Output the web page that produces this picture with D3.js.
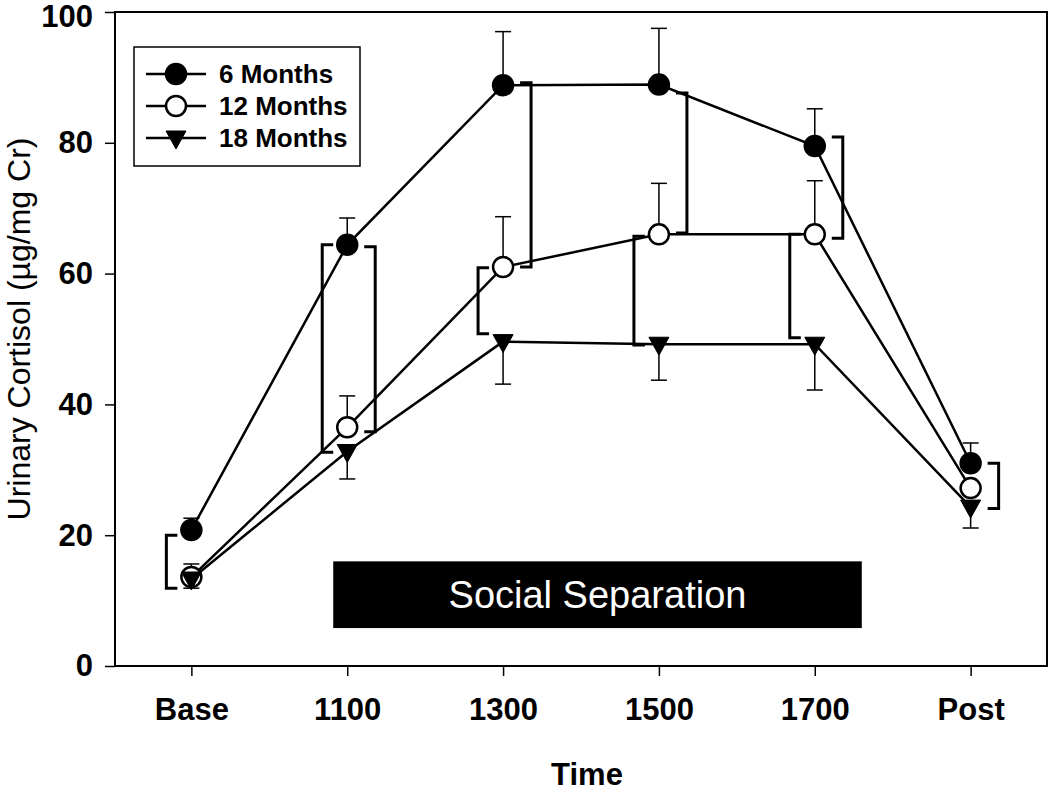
<!DOCTYPE html>
<html>
<head>
<meta charset="utf-8">
<script src="https://cdn.jsdelivr.net/npm/d3@7"></script>
<style>
  html, body { margin: 0; padding: 0; background: #fff; }
  svg { display: block; font-family: "Liberation Sans", Arial, sans-serif; }
</style>
</head>
<body>
<div id="chart"></div>
<script>
const timePoints = ['Base', '1100', '1300', '1500', '1700', 'Post'];

const months6 = [20.8, 64.4, 88.8, 88.9, 79.5, 31.0];
const months6Err = [1.8, 4.1, 8.2, 8.6, 5.7, 3.1];
const months12 = [13.6, 36.5, 61.0, 66.0, 66.0, 27.2];
const months12Err = [2.0, 4.8, 7.7, 7.8, 8.2, 1.0];
const months18 = [13.3, 32.8, 49.6, 49.2, 49.2, 24.3];
const months18Err = [1.4, 4.2, 6.5, 5.5, 7.0, 3.2];

const yTicks = [0, 20, 40, 60, 80, 100];

// significance brackets: [time point, side, upper value, lower value]
const brackets = [
  ['Base', 'left', 20.0, 11.9],
  ['1100', 'left', 64.4, 32.7],
  ['1100', 'right', 64.1, 35.8],
  ['1300', 'left', 60.9, 50.8],
  ['1300', 'right', 89.2, 61.0],
  ['1500', 'left', 65.7, 49.1],
  ['1500', 'right', 87.6, 66.2],
  ['1700', 'left', 66.0, 50.2],
  ['1700', 'right', 80.9, 65.4],
  ['Post', 'right', 31.0, 24.1]
];

const separationLabel = 'Social Separation';
const separationRange = [5.8, 16.0];

const series = [
  { name: '6 Months', values: months6, err: months6Err, dir: 1, shape: 'circle', fill: '#000' },
  { name: '12 Months', values: months12, err: months12Err, dir: 1, shape: 'circle', fill: '#fff' },
  { name: '18 Months', values: months18, err: months18Err, dir: -1, shape: 'triangle', fill: '#000' }
];

const W = 1050, H = 791;
const plot = { left: 115, right: 1047, top: 12, bottom: 666 };

const svg = d3.select('#chart').append('svg')
  .attr('width', W)
  .attr('height', H);

const x = d3.scalePoint()
  .domain(timePoints)
  .range([plot.left, plot.right])
  .padding(0.49);

const y = d3.scaleLinear()
  .domain([0, 100])
  .range([plot.bottom, plot.top]);

// frame
svg.append('rect')
  .attr('x', plot.left)
  .attr('y', plot.top)
  .attr('width', plot.right - plot.left)
  .attr('height', plot.bottom - plot.top)
  .attr('fill', 'none')
  .attr('stroke', '#000')
  .attr('stroke-width', 2);

// y axis
const yAxis = svg.append('g')
  .attr('transform', `translate(${plot.left},0)`)
  .call(d3.axisLeft(y).tickValues(yTicks).tickSize(10).tickPadding(12));
yAxis.select('.domain').remove();
yAxis.selectAll('.tick line').attr('stroke-width', 1.5);
yAxis.selectAll('.tick text')
  .attr('font-size', 31)
  .attr('font-weight', 700)
  .attr('font-family', '"Liberation Sans", Arial, sans-serif')
  .attr('fill', '#000')
  .attr('dy', d => d === 100 ? '0.48em' : '0.32em');

// x axis
const xAxis = svg.append('g')
  .attr('transform', `translate(0,${plot.bottom})`)
  .call(d3.axisBottom(x).tickSize(10).tickPadding(22));
xAxis.select('.domain').remove();
xAxis.selectAll('.tick line').attr('stroke-width', 1.5);
xAxis.selectAll('.tick text')
  .attr('font-size', 31)
  .attr('font-weight', 700)
  .attr('font-family', '"Liberation Sans", Arial, sans-serif')
  .attr('fill', '#000');

// axis titles
svg.append('text')
  .attr('x', (plot.left + plot.right) / 2 + 6)
  .attr('y', 785)
  .attr('text-anchor', 'middle')
  .attr('font-size', 31)
  .attr('font-weight', 700)
  .text('Time');

svg.append('text')
  .attr('transform', `translate(30,${(plot.top + plot.bottom) / 2 - 10}) rotate(-90)`)
  .attr('text-anchor', 'middle')
  .attr('font-size', 32)
  .text('Urinary Cortisol (µg/mg Cr)');

// social separation bar
const sepX0 = x('1100') - 14;
const sepX1 = x('1700') + 47;
svg.append('rect')
  .attr('x', sepX0)
  .attr('y', y(separationRange[1]))
  .attr('width', sepX1 - sepX0)
  .attr('height', y(separationRange[0]) - y(separationRange[1]))
  .attr('fill', '#000');

svg.append('text')
  .attr('x', (sepX0 + sepX1) / 2)
  .attr('y', (y(separationRange[0]) + y(separationRange[1])) / 2 + 13)
  .attr('text-anchor', 'middle')
  .attr('font-size', 38)
  .attr('fill', '#fff')
  .text(separationLabel);

const g = svg.append('g');

// series lines
const line = d3.line()
  .x((d, i) => x(timePoints[i]))
  .y(d => y(d));

g.selectAll('path.series')
  .data(series)
  .enter()
  .append('path')
  .attr('class', 'series')
  .attr('d', d => line(d.values))
  .attr('fill', 'none')
  .attr('stroke', '#000')
  .attr('stroke-width', 2.5);

// error bars
series.forEach(s => {
  const eb = g.append('g');
  s.values.forEach((v, i) => {
    const cx = x(timePoints[i]);
    const end = y(v + s.dir * s.err[i]);
    eb.append('line')
      .attr('x1', cx).attr('x2', cx)
      .attr('y1', y(v)).attr('y2', end)
      .attr('stroke', '#000').attr('stroke-width', 1.5);
    eb.append('line')
      .attr('x1', cx - 8).attr('x2', cx + 8)
      .attr('y1', end).attr('y2', end)
      .attr('stroke', '#000').attr('stroke-width', 1.5);
  });
});

// brackets
const bracketOffset = { left: -25, right: 28 };
const armLen = 11;
g.selectAll('path.bracket')
  .data(brackets)
  .enter()
  .append('path')
  .attr('class', 'bracket')
  .attr('d', d => {
    const bx = x(d[0]) + bracketOffset[d[1]];
    const arm = d[1] === 'left' ? armLen : -armLen;
    return `M${bx + arm},${y(d[2])}H${bx}V${y(d[3])}H${bx + arm}`;
  })
  .attr('fill', 'none')
  .attr('stroke', '#000')
  .attr('stroke-width', 3);

// markers
function drawMarker(sel, shape, fill) {
  if (shape === 'circle') {
    sel.append('circle')
      .attr('r', 10)
      .attr('fill', fill)
      .attr('stroke', '#000')
      .attr('stroke-width', 2.5);
  } else {
    sel.append('path')
      .attr('d', 'M-10,-7L10,-7L0,11Z')
      .attr('fill', fill)
      .attr('stroke', '#000')
      .attr('stroke-width', 1);
  }
}

series.forEach(s => {
  s.values.forEach((v, i) => {
    const m = g.append('g')
      .attr('transform', `translate(${x(timePoints[i])},${y(v)})`);
    drawMarker(m, s.shape, s.fill);
  });
});

// legend
const legend = svg.append('g');
legend.append('rect')
  .attr('x', 134)
  .attr('y', 47)
  .attr('width', 226)
  .attr('height', 119)
  .attr('fill', '#fff')
  .attr('stroke', '#000')
  .attr('stroke-width', 1.5);

const rows = legend.selectAll('g.row')
  .data(series)
  .enter()
  .append('g')
  .attr('class', 'row')
  .attr('transform', (d, i) => `translate(176,${74 + i * 32})`);

rows.append('line')
  .attr('x1', -30).attr('x2', 30)
  .attr('stroke', '#000')
  .attr('stroke-width', 2.5);

rows.each(function (d) { drawMarker(d3.select(this), d.shape, d.fill); });

rows.append('text')
  .attr('x', 43)
  .attr('y', 9)
  .attr('font-size', 26)
  .attr('font-weight', 700)
  .text(d => d.name);
</script>
</body>
</html>
